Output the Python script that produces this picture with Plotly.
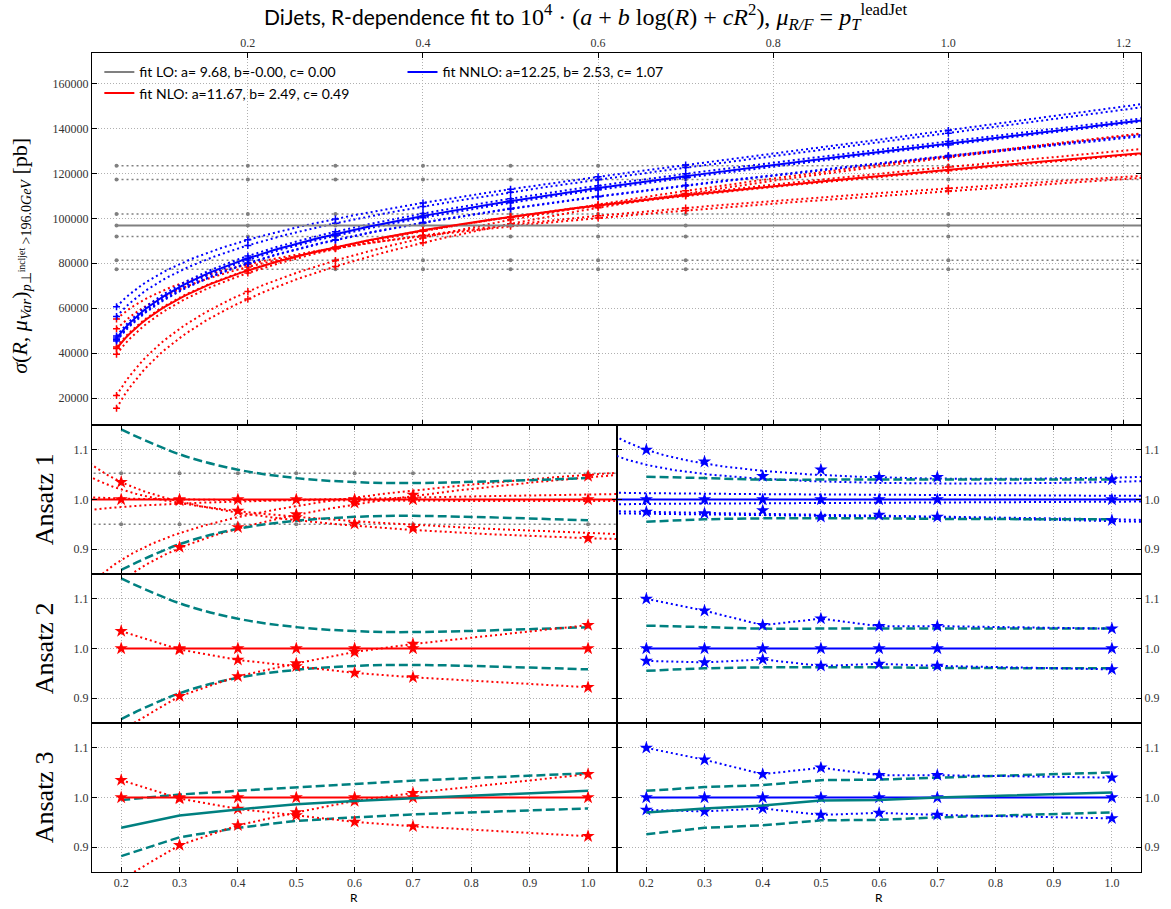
import numpy as np
import plotly.graph_objects as go

# ---------------------------------------------------------------- data
R_DATA  = [0.05, 0.2, 0.3, 0.4, 0.5, 0.6, 0.7, 1.0]      # jet radii of the runs
R_RATIO = [0.2, 0.3, 0.4, 0.5, 0.6, 0.7, 1.0]            # radii shown in the ratio panels

# central fits, 10^4 * (a + b log R + c R^2)
FIT_LO   = [9.68, 0.00, 0.00]
FIT_NLO  = [11.67, 2.49, 0.49]
FIT_NNLO = [12.25, 2.53, 1.07]

# scale-variation fits (a, b, c)
LO_VAR_A   = [12.34, 11.72, 10.19, 9.195, 8.13, 7.735]
NLO_VAR_A  = [10.726, 11.000, 11.62, 11.706, 12.055, 11.989]
NLO_VAR_B  = [1.736, 1.974, 2.45, 2.586, 3.317, 3.482]
NLO_VAR_C  = [0.486, 0.333, 0.50, 0.576, 0.713, 0.718]
NNLO_VAR_A = [12.366, 12.351, 12.37, 12.16, 11.906, 11.916]
NNLO_VAR_B = [2.103, 2.245, 2.54, 2.52, 2.440, 2.460]
NNLO_VAR_C = [1.540, 1.435, 1.05, 1.10, 0.881, 0.831]

# ratio of the varied runs to the central fit (stars)
NLO_R_UP  = [1.035, 0.998, 0.977, 0.964, 0.951, 0.942, 0.922]
NLO_R_DN  = [0.835, 0.904, 0.944, 0.970, 0.993, 1.009, 1.047]
NNLO_R_UP = [1.100, 1.076, 1.047, 1.060, 1.045, 1.045, 1.040]
NNLO_R_DN = [0.975, 0.972, 0.978, 0.965, 0.969, 0.965, 0.958]

# uncertainty envelopes, ansatz 1 / 2
NLO_ENV_HI  = [1.141, 1.091, 1.060, 1.043, 1.035, 1.033, 1.043]
NLO_ENV_LO  = [0.858, 0.910, 0.941, 0.957, 0.965, 0.967, 0.958]
NNLO_ENV_HI = [1.046, 1.043, 1.040, 1.040, 1.040, 1.040, 1.040]
NNLO_ENV_LO = [0.955, 0.960, 0.962, 0.962, 0.962, 0.961, 0.960]

# ansatz 3
NLO_A3_HI   = [0.995, 1.006, 1.0135, 1.020, 1.0276, 1.034, 1.049]
NLO_A3_MID  = [0.939, 0.9636, 0.976, 0.9865, 0.993, 0.9987, 1.0135]
NLO_A3_LO   = [0.882, 0.920, 0.939, 0.953, 0.960, 0.966, 0.978]
NNLO_A3_HI  = [1.0135, 1.021, 1.025, 1.035, 1.036, 1.040, 1.0505]
NNLO_A3_MID = [0.970, 0.978, 0.984, 0.994, 0.995, 1.000, 1.010]
NNLO_A3_LO  = [0.926, 0.939, 0.944, 0.954, 0.955, 0.960, 0.970]

TOP_TICKS = [0.2, 0.4, 0.6, 0.8, 1.0, 1.2]
Y_TICKS   = [20000, 40000, 60000, 80000, 100000, 120000, 140000, 160000]
R_TICKS   = [0.2, 0.3, 0.4, 0.5, 0.6, 0.7, 0.8, 0.9, 1.0]

# ---------------------------------------------------------------- helpers
GRAY, RED, BLUE, TEAL = "#808080", "#ff0000", "#0000ff", "#008080"
DOT = "2px,3px"
R_GRID = np.linspace(0.05, 1.25, 241)

def fit(r, a, b, c):
    r = np.asarray(r, dtype=float)
    return 1e4 * (a + b * np.log(r) + c * r ** 2)

fig = go.Figure()

def add(tr, n):
    s = "" if n == 1 else str(n)
    tr.update(xaxis="x" + s, yaxis="y" + s)
    fig.add_trace(tr)

def dotted(x, y, color, n, width=2):
    add(go.Scatter(x=x, y=y, mode="lines",
                   line=dict(color=color, width=width, dash=DOT),
                   showlegend=False, hoverinfo="skip"), n)

def stars(x, y, color, n, line=None):
    add(go.Scatter(x=x, y=y, mode="markers" if line is None else "lines+markers",
                   line=dict(color=color, width=2, dash=line or "solid"),
                   marker=dict(symbol="star", size=10, color=color, line=dict(width=0)),
                   showlegend=False, hoverinfo="skip"), n)

def teal(x, y, n, dash="9px,4px", smooth=True):
    add(go.Scatter(x=x, y=y, mode="lines",
                   line=dict(color=TEAL, width=2.5, dash=dash,
                             shape="spline" if smooth else "linear"),
                   showlegend=False, hoverinfo="skip"), n)

def pts(y, color, n, dot=False):
    if dot:
        mk = dict(symbol="circle", size=4, color=color, line=dict(width=0))
    else:
        mk = dict(symbol="cross-thin", size=5, color=color, line=dict(color=color, width=1.5))
    add(go.Scatter(x=R_DATA, y=y, mode="markers", marker=mk,
                   showlegend=False, hoverinfo="skip"), n)

# ---------------------------------------------------------------- top panel
lo_c = fit(R_GRID, *FIT_LO)
for a in LO_VAR_A:
    dotted(R_GRID, fit(R_GRID, a, 0, 0), GRAY, 1, width=1.5)
    pts(fit(R_DATA, a, 0, 0), GRAY, 1, dot=True)

nlo_vars = list(zip(NLO_VAR_A, NLO_VAR_B, NLO_VAR_C))
nnlo_vars = list(zip(NNLO_VAR_A, NNLO_VAR_B, NNLO_VAR_C))

for v in nlo_vars:
    dotted(R_GRID, fit(R_GRID, *v), RED, 1)
    pts(fit(R_DATA, *v), RED, 1)
for v in nnlo_vars:
    dotted(R_GRID, fit(R_GRID, *v), BLUE, 1)
    pts(fit(R_DATA, *v), BLUE, 1)

legend_rows = [
    ("fit LO: a= 9.68, b=-0.00, c= 0.00", GRAY, FIT_LO, "legend"),
    ("fit NLO: a=11.67, b= 2.49, c= 0.49", RED, FIT_NLO, "legend"),
    ("fit NNLO: a=12.25, b= 2.53, c= 1.07", BLUE, FIT_NNLO, "legend2"),
]
for name, col, co, lg in legend_rows:
    add(go.Scatter(x=R_GRID, y=fit(R_GRID, *co), mode="lines", name=name,
                   line=dict(color=col, width=2), legend=lg, hoverinfo="skip"), 1)
    pts(fit(R_DATA, *co), col, 1, dot=(col == GRAY))

# ---------------------------------------------------------------- ratio panels
def ratio_col(central, variations, r_up, r_dn, env_hi, env_lo, a3, color, first, with_lo):
    n1, n2, n3 = first, first + 2, first + 4
    c_grid = fit(R_GRID, *central)

    # ansatz 1: ratio of fitted curves
    if with_lo:
        for a in LO_VAR_A:
            dotted(R_GRID, fit(R_GRID, a, 0, 0) / lo_c, GRAY, n1, width=1.5)
            pts(fit(R_DATA, a, 0, 0) / fit(R_DATA, *FIT_LO), GRAY, n1, dot=True)
    for v in variations:
        dotted(R_GRID, fit(R_GRID, *v) / c_grid, color, n1)
    teal(R_RATIO, env_hi, n1)
    teal(R_RATIO, env_lo, n1)
    add(go.Scatter(x=R_GRID, y=c_grid / c_grid, mode="lines",
                   line=dict(color=color, width=2), showlegend=False, hoverinfo="skip"), n1)
    ones = [1.0] * len(R_RATIO)
    stars(R_RATIO, ones, color, n1)
    stars(R_RATIO, r_up, color, n1)
    stars(R_RATIO, r_dn, color, n1)

    # ansatz 2
    teal(R_RATIO, env_hi, n2)
    teal(R_RATIO, env_lo, n2)
    stars(R_RATIO, r_up, color, n2, line=DOT)
    stars(R_RATIO, r_dn, color, n2, line=DOT)
    stars(R_RATIO, ones, color, n2, line="solid")

    # ansatz 3
    hi, mid, lo = a3
    teal(R_RATIO, hi, n3, smooth=False)
    teal(R_RATIO, lo, n3, smooth=False)
    stars(R_RATIO, r_up, color, n3, line=DOT)
    stars(R_RATIO, r_dn, color, n3, line=DOT)
    stars(R_RATIO, ones, color, n3, line="solid")
    teal(R_RATIO, mid, n3, dash="solid", smooth=False)

ratio_col(FIT_NLO, nlo_vars, NLO_R_UP, NLO_R_DN, NLO_ENV_HI, NLO_ENV_LO,
          (NLO_A3_HI, NLO_A3_MID, NLO_A3_LO), RED, 2, True)
ratio_col(FIT_NNLO, nnlo_vars, NNLO_R_UP, NNLO_R_DN, NNLO_ENV_HI, NNLO_ENV_LO,
          (NNLO_A3_HI, NNLO_A3_MID, NNLO_A3_LO), BLUE, 3, False)

# ---------------------------------------------------------------- layout
TICKFONT = dict(family="Liberation Serif", size=12, color="#333333")
AX = dict(showline=True, linecolor="black", linewidth=1, mirror="allticks",
          ticks="inside", ticklen=5, tickcolor="black", showgrid=True,
          gridcolor="#b0b0b0", griddash="1px,2px", gridwidth=1, zeroline=False,
          tickfont=TICKFONT)

XL, XR = [0.0, 0.5007], [0.5007, 1.0]
YD = {2: [0.3639, 0.5458], 4: [0.1819, 0.3639], 6: [0.0, 0.1819]}

lay = dict(
    width=1171, height=909,
    margin=dict(l=92, r=28, t=53, b=37),
    paper_bgcolor="white", plot_bgcolor="white",
    font=dict(family="Lato", size=12, color="black"),
    title=dict(
        text=('DiJets, R-dependence fit to <span style="font-family:Liberation Serif;font-size:24px">'
              '10<sup>4</sup> · (<i>a</i> + <i>b</i> log(<i>R</i>) + <i>cR</i><sup>2</sup>), '
              '<i>μ</i><sub><i>R/F</i></sub> = <i>p</i><sub><i>T</i></sub>'
              '<sup>leadJet</sup></span>'),
        x=0.5, xanchor="center", y=0.981, yanchor="middle",
        font=dict(family="Lato", size=21, color="black")),
    xaxis=dict(AX, domain=[0, 1], anchor="y", side="top", range=[0.022, 1.22],
               tickvals=TOP_TICKS, tickformat=".1f"),
    yaxis=dict(AX, domain=[0.5458, 1], anchor="x", range=[8100, 173500],
               tickvals=Y_TICKS, tickformat="d"),
    legend=dict(x=0.007, y=0.996, xanchor="left", yanchor="top", bgcolor="rgba(0,0,0,0)",
                font=dict(family="Lato", size=14), tracegroupgap=0, itemwidth=30),
    legend2=dict(x=0.296, y=0.996, xanchor="left", yanchor="top", bgcolor="rgba(0,0,0,0)",
                 font=dict(family="Lato", size=14), itemwidth=30),
    showlegend=True,
)

for n in range(2, 8):
    left = n % 2 == 0
    dom_y = YD[n if left else n - 1]
    lay[f"xaxis{n}"] = dict(AX, domain=XL if left else XR, anchor=f"y{n}",
                            range=[0.15, 1.05], tickvals=R_TICKS, tickformat=".1f",
                            showticklabels=n >= 6)
    lay[f"yaxis{n}"] = dict(AX, domain=dom_y, anchor=f"x{n}", range=[0.85, 1.15],
                            tickvals=[0.9, 1.0, 1.1], tickformat=".1f",
                            side="left" if left else "right")

ann = []
for k, n in enumerate([2, 4, 6]):
    d = YD[n]
    ann.append(dict(text=f"Ansatz {k + 1}", xref="paper", yref="paper",
                    x=-0.045, y=(d[0] + d[1]) / 2, xanchor="center", yanchor="middle",
                    textangle=-90, showarrow=False,
                    font=dict(family="Liberation Serif", size=26, color="black")))
ann.append(dict(text=("<i>σ</i>(<i>R</i>, <i>μ</i><sub><i>Var</i></sub>)"
                      '<sub><span style="font-size:14px"><i>p</i>⊥<sup>incljet</sup>'
                      ' >196.0<i>GeV</i></span></sub> [pb]'),
                xref="paper", yref="paper", x=-0.068, y=0.752,
                xanchor="center", yanchor="middle", textangle=-90,
                showarrow=False, font=dict(family="Liberation Serif", size=22, color="black")))
for xc in [0.25, 0.75]:
    ann.append(dict(text="R", xref="paper", yref="paper", x=xc, y=-0.031,
                    xanchor="center", yanchor="middle", showarrow=False,
                    font=dict(family="Lato", size=12, color="black")))
lay["annotations"] = ann

fig.update_layout(**lay)
# drop the default page margin so the 1171x909 figure fills the window exactly
fig.write_html("out.html", config={"displayModeBar": False},
               post_script="document.body.style.margin='0';")
